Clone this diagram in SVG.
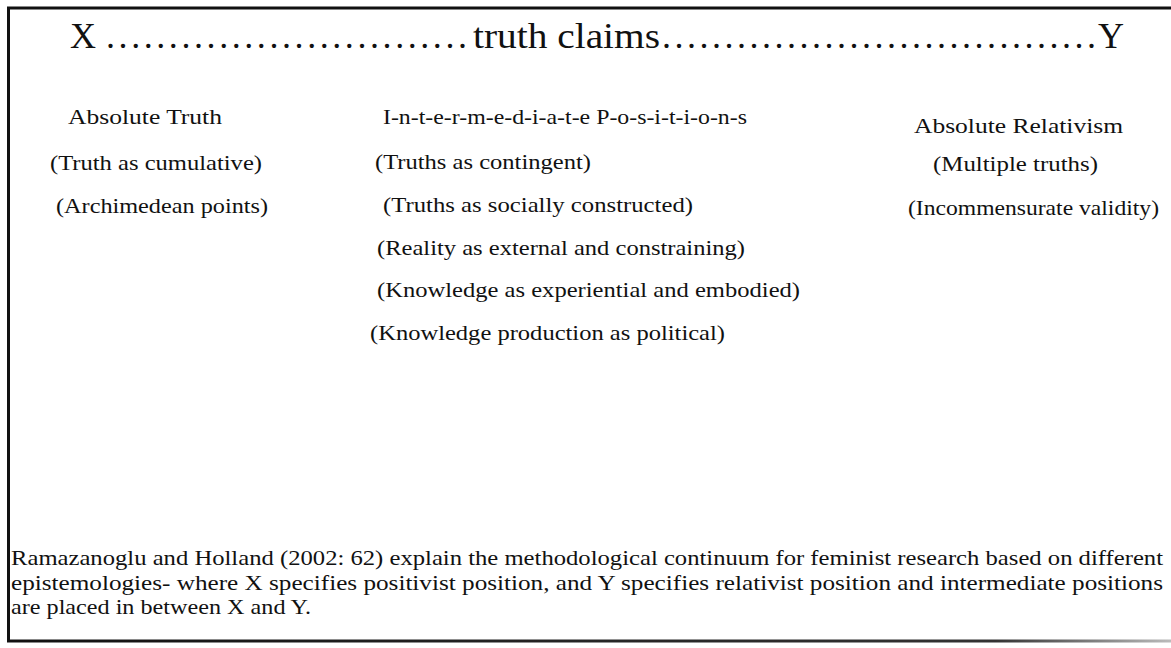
<svg xmlns="http://www.w3.org/2000/svg" width="1171" height="648" viewBox="0 0 1171 648">
<defs>
<linearGradient id="fade" gradientUnits="userSpaceOnUse" x1="0" y1="0" x2="1171" y2="0">
<stop offset="0" stop-color="#111"/>
<stop offset="0.85" stop-color="#333"/>
<stop offset="1" stop-color="#bbb"/>
</linearGradient>
</defs>
<style>
text{font-family:"Liberation Serif","Times New Roman",serif;fill:#111}
.t{font-size:36px}
.b{font-size:22px}
.p{font-size:22px}
</style>
<rect width="1171" height="648" fill="#fff"/>
<g id="frame">
<line x1="7" y1="8" x2="1171" y2="8" stroke="#111" stroke-width="3"/>
<line x1="8.5" y1="7" x2="8.5" y2="642" stroke="#111" stroke-width="3"/>
<line x1="7" y1="641" x2="1171" y2="641" stroke="url(#fade)" stroke-width="3"/>
</g>
<g id="title">
<text class="t" x="70" y="48">X</text>
<text class="t" x="106" y="48" textLength="361" lengthAdjust="spacing">.............................</text>
<text class="t" x="473" y="48" textLength="187" lengthAdjust="spacingAndGlyphs">truth claims</text>
<text class="t" x="662" y="48" textLength="434" lengthAdjust="spacing">...................................</text>
<text class="t" x="1098" y="48">Y</text>
</g>
<g id="col-x">
<text class="b" x="68" y="124" textLength="154" lengthAdjust="spacingAndGlyphs">Absolute Truth</text>
<text class="b" x="50" y="170" textLength="212" lengthAdjust="spacingAndGlyphs">(Truth as cumulative)</text>
<text class="b" x="56" y="213" textLength="212" lengthAdjust="spacingAndGlyphs">(Archimedean points)</text>
</g>
<g id="col-mid">
<text class="b" x="383" y="124" textLength="364" lengthAdjust="spacingAndGlyphs">I-n-t-e-r-m-e-d-i-a-t-e P-o-s-i-t-i-o-n-s</text>
<text class="b" x="375" y="169" textLength="216" lengthAdjust="spacingAndGlyphs">(Truths as contingent)</text>
<text class="b" x="383" y="212" textLength="310" lengthAdjust="spacingAndGlyphs">(Truths as socially constructed)</text>
<text class="b" x="377" y="255" textLength="368" lengthAdjust="spacingAndGlyphs">(Reality as external and constraining)</text>
<text class="b" x="377" y="297" textLength="423" lengthAdjust="spacingAndGlyphs">(Knowledge as experiential and embodied)</text>
<text class="b" x="370" y="340" textLength="355" lengthAdjust="spacingAndGlyphs">(Knowledge production as political)</text>
</g>
<g id="col-y">
<text class="b" x="914" y="133" textLength="209" lengthAdjust="spacingAndGlyphs">Absolute Relativism</text>
<text class="b" x="933" y="171" textLength="165" lengthAdjust="spacingAndGlyphs">(Multiple truths)</text>
<text class="b" x="908" y="215" textLength="251" lengthAdjust="spacingAndGlyphs">(Incommensurate validity)</text>
</g>
<g id="caption">
<text class="p" x="11" y="565" textLength="1152" lengthAdjust="spacingAndGlyphs">Ramazanoglu and Holland (2002: 62) explain the methodological continuum for feminist research based on different</text>
<text class="p" x="11" y="590" textLength="1152" lengthAdjust="spacingAndGlyphs">epistemologies- where X specifies positivist position, and Y specifies relativist position and intermediate positions</text>
<text class="p" x="11" y="614" textLength="300" lengthAdjust="spacingAndGlyphs">are placed in between X and Y.</text>
</g>
</svg>
